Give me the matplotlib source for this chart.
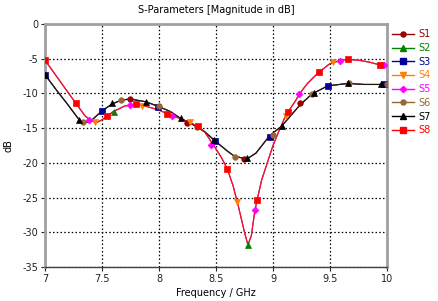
import numpy as np
import matplotlib
matplotlib.use("Agg")
from matplotlib import pyplot as plt
from matplotlib.lines import Line2D

plt.rcParams['font.family'] = ['DejaVu Sans']
plt.rcParams['axes.unicode_minus'] = False

# deep curve (S2, S4, S5, S8) and shallow curve (S1, S3, S6, S7)
freq_deep = [7.0, 7.1, 7.2, 7.27, 7.35, 7.4, 7.45, 7.5, 7.54, 7.6, 7.7, 7.8, 7.9, 8.0,
             8.1, 8.2, 8.3, 8.4, 8.5, 8.55, 8.6, 8.65, 8.7, 8.75, 8.78, 8.81, 8.84, 8.86,
             8.9, 8.95, 9.0, 9.05, 9.1, 9.13, 9.2, 9.23, 9.3, 9.4, 9.5, 9.6, 9.655, 9.75,
             9.85, 9.94, 10.0]
db_deep = [-5.2, -7.5, -9.8, -11.4, -13.2, -13.9, -14.2, -13.8, -13.3, -12.6, -11.8, -11.55,
           -11.9, -12.4, -13.1, -13.7, -14.4, -15.5, -18.0, -19.3, -20.9, -23.3, -26.5, -30.0,
           -31.8, -30.5, -27.0, -25.4, -22.5, -20.0, -17.5, -15.5, -13.6, -12.7, -11.0, -10.1,
           -8.6, -6.96, -5.7, -5.2, -5.1, -5.2, -5.5, -5.9, -6.1]

freq_shallow = [7.0, 7.1, 7.2, 7.3, 7.35, 7.4, 7.5, 7.59, 7.67, 7.75, 7.886, 8.0, 8.1, 8.19,
                8.3, 8.4, 8.49, 8.6, 8.667, 8.775, 8.85, 8.97, 9.076, 9.24, 9.34, 9.48, 9.66,
                9.8, 10.0]
db_shallow = [-7.3, -9.5, -11.6, -13.8, -14.2, -14.0, -12.5, -11.5, -10.95, -10.8, -11.2,
              -11.9, -12.6, -13.6, -14.5, -15.5, -16.8, -18.3, -19.1, -19.4, -18.6, -16.1,
              -14.7, -11.6, -10.1, -8.9, -8.55, -8.7, -8.7]

# marker points of each series
s1_f = [7.75, 8.245, 8.745, 9.24]
s1_db = [-10.8, -14.2, -19.4, -11.4]
s2_f = [7.605, 8.78]
s2_db = [-12.6, -31.8]
s3_f = [7.0, 7.497, 7.99, 8.49, 8.97, 9.48, 9.97]
s3_db = [-7.3, -12.5, -11.9, -16.8, -16.2, -8.9, -8.7]
s4_f = [7.44, 7.855, 8.27, 8.687, 9.11, 9.53, 9.95]
s4_db = [-14.1, -11.8, -14.1, -25.7, -13.3, -5.5, -5.9]
s5_f = [7.386, 7.746, 8.11, 8.46, 8.842, 9.23, 9.59, 9.97]
s5_db = [-13.8, -11.67, -13.25, -17.4, -26.8, -10.1, -5.3, -5.9]
s6_f = [7.33, 7.67, 8.0, 8.33, 8.667, 9.0, 9.34, 9.67, 10.0]
s6_db = [-14.1, -10.95, -11.8, -14.9, -19.1, -16.0, -10.1, -8.55, -8.7]
s7_f = [7.0, 7.3, 7.59, 7.886, 8.19, 8.48, 8.775, 9.076, 9.36, 9.66, 9.95]
s7_db = [-7.3, -13.8, -11.4, -11.2, -13.6, -16.7, -19.35, -14.7, -9.98, -8.55, -8.7]
s8_f = [7.0, 7.27, 7.54, 7.80, 8.07, 8.34, 8.60, 8.86, 9.13, 9.40, 9.655, 9.94]
s8_db = [-5.2, -11.4, -13.25, -11.55, -12.9, -14.7, -20.9, -25.35, -12.7, -6.96, -5.1, -5.9]

labels = ['S1', 'S2', 'S3', 'S4', 'S5', 'S6', 'S7', 'S8']
colors = ['#990000', '#008000', '#000099', '#ff8000', '#ff00ff', '#996633', '#000000', '#ff0000']
markers = ['o', '^', 's', 'v', 'D', 'o', '^', 's']
msizes = [4, 5, 4.5, 5, 3.5, 4, 5, 4.5]
groups = ['shallow', 'deep', 'shallow', 'deep', 'deep', 'shallow', 'shallow', 'deep']
mark_f = [s1_f, s2_f, s3_f, s4_f, s5_f, s6_f, s7_f, s8_f]
mark_db = [s1_db, s2_db, s3_db, s4_db, s5_db, s6_db, s7_db, s8_db]

fig = plt.figure(figsize=(4.39, 3.01), dpi=100)
ax = fig.add_axes([0.1025, 0.113, 0.779, 0.807])

for ii in range(len(labels)):
    if groups[ii] == 'deep':
        ax.plot(freq_deep, db_deep, color=colors[ii], lw=0.8, alpha=0.75)
    else:
        ax.plot(freq_shallow, db_shallow, color=colors[ii], lw=0.8, alpha=0.75)

for ii in range(len(labels)):
    ax.plot(mark_f[ii], mark_db[ii], ls='none', marker=markers[ii], ms=msizes[ii],
            color=colors[ii], mec=colors[ii], mew=0.5, zorder=3)

ax.set_xlim(7, 10)
ax.set_ylim(-35, 0)
ax.set_xticks(np.arange(7, 10.01, 0.5))
ax.set_xticklabels(['7', '7.5', '8', '8.5', '9', '9.5', '10'])
ax.set_yticks(np.arange(-35, 0.1, 5))
ax.set_yticklabels(['-35', '-30', '-25', '-20', '-15', '-10', '-5', '0'])
ax.tick_params(labelsize=7, length=3, width=0.8, pad=2, colors='#222222')
ax.grid(True, color='black', ls=(0, (1.2, 1.8)), lw=0.9)

for side in ['left', 'top', 'right']:
    ax.spines[side].set_color('#a0a0a0')
    ax.spines[side].set_linewidth(2)
ax.spines['bottom'].set_color('#404040')
ax.spines['bottom'].set_linewidth(1)

ax.set_title('S-Parameters [Magnitude in dB]', fontsize=7, pad=8)
ax.set_xlabel('Frequency / GHz', fontsize=7, labelpad=3)
ax.set_ylabel('dB', fontsize=7, labelpad=6)

handles = [Line2D([], [], color=colors[ii], marker=markers[ii], ms=msizes[ii] * 0.9, lw=1)
           for ii in range(len(labels))]
fig.legend(handles, labels, loc='upper left', bbox_to_anchor=(0.878, 0.925),
           frameon=False, fontsize=7, labelcolor='linecolor', handlelength=2.2,
           handletextpad=0.45, labelspacing=0.38, borderpad=0.2)

fig.savefig('out.png', dpi=100)
